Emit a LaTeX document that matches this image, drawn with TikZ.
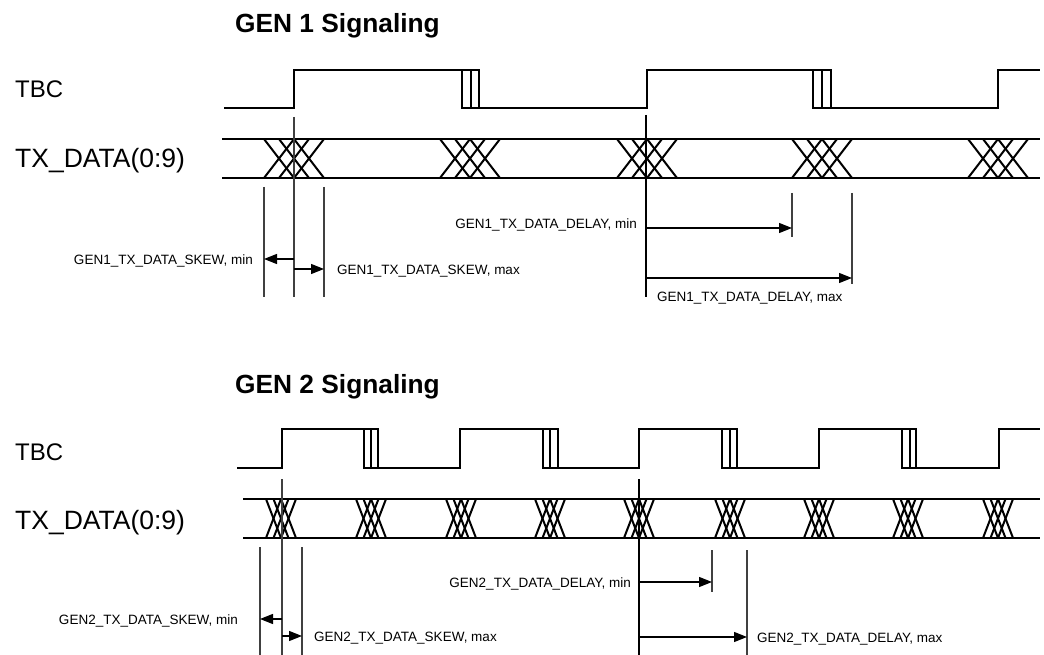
\documentclass[tikz,border=0pt]{standalone}
\usepackage{fontspec}
\setmainfont{Liberation Sans}
\usetikzlibrary{arrows.meta}
\begin{document}
\begin{tikzpicture}[x=1pt,y=-1pt,
  sig/.style={line width=2.9pt},
  xing/.style={line width=2pt},
  guide/.style={line width=1.1pt,black!75},
  dimarrow/.style={line width=1.2pt,-{Triangle[length=13pt,width=10pt]}},
  ttl/.style={inner sep=0pt,anchor=base west,font=\fontsize{26.3}{30}\selectfont\bfseries},
  sname/.style={inner sep=0pt,anchor=base west,font=\fontsize{24}{28}\selectfont},
  lbl/.style={inner sep=0pt,font=\fontsize{13.5}{16}\selectfont}]
\useasboundingbox (0,0) rectangle (1044,655);

% ================= GEN 1 =================
\node[ttl] (t1) at (235,33) {GEN 1 Signaling};
\node[sname] (tbc1) at (15,98) {TBC};
\node[sname,font=\fontsize{26.5}{30}\selectfont] (tx1) at (15,168) {TX\_DATA(0:9)};

% TBC
\draw[sig] (224,108) -- (294,108) -- (294,70) -- (479,70) -- (479,108) -- (647,108)
  -- (647,70) -- (831,70) -- (831,108) -- (998,108) -- (998,70) -- (1040,70);
\foreach \fa/\fb/\fc in {462/471/479, 813/822/831} {
  \draw[sig] (\fa,70) -- (\fa,108) -- (\fc,108);
  \draw[sig] (\fb,70) -- (\fb,108);
}
% TX_DATA
\draw[sig] (222,139) -- (1040,139);
\draw[sig] (222,178) -- (1040,178);
\foreach \c in {294,470,647,822,998} {
  \foreach \k in {0,1,2} {
    \draw[xing] ({\c-30+15*\k},139) -- ({\c+15*\k},178);
    \draw[xing] ({\c-30+15*\k},178) -- ({\c+15*\k},139);
  }
}
% guides
\draw[guide] (294,117) -- (294,297);
\draw[guide] (264,187) -- (264,297);
\draw[guide] (324,187) -- (324,297);
\draw[guide,black] (646,115) -- (646,297);
\draw[guide] (792,193) -- (792,237);
\draw[guide] (852,193) -- (852,284);
% arrows
\coordinate (a1s) at (294,259);  \coordinate (a1e) at (264,259);
\coordinate (b1s) at (294,269);  \coordinate (b1e) at (324,269);
\coordinate (c1s) at (646,228);  \coordinate (c1e) at (792,228);
\coordinate (d1s) at (646,278);  \coordinate (d1e) at (852,278);
\draw[dimarrow] (a1s) -- (a1e);
\draw[dimarrow] (b1s) -- (b1e);
\draw[dimarrow] (c1s) -- (c1e);
\draw[dimarrow] (d1s) -- (d1e);
\node[lbl,anchor=base east] (l1a) at (253,264) {GEN1\_TX\_DATA\_SKEW, min};
\node[lbl,anchor=base west] (l1b) at (337,274) {GEN1\_TX\_DATA\_SKEW, max};
\node[lbl,anchor=base east] (l1c) at (637,229) {GEN1\_TX\_DATA\_DELAY, min};
\node[lbl,anchor=base west] (l1d) at (657,301) {GEN1\_TX\_DATA\_DELAY, max};

% ================= GEN 2 =================
\node[ttl] (t2) at (235,393) {GEN 2 Signaling};
\node[sname] (tbc2) at (15,460) {TBC};
\node[sname,font=\fontsize{26.5}{30}\selectfont] (tx2) at (15,529) {TX\_DATA(0:9)};

\draw[sig] (237,468) -- (282,468) -- (282,429) -- (378,429) -- (378,468) -- (460,468)
  -- (460,429) -- (558,429) -- (558,468) -- (639,468) -- (639,429) -- (737,429)
  -- (737,468) -- (819,468) -- (819,429) -- (916,429) -- (916,468) -- (999,468)
  -- (999,429) -- (1040,429);
\foreach \fa/\fb/\fc in {364/371/378, 543/550/558, 722/730/737, 902/910/916} {
  \draw[sig] (\fa,429) -- (\fa,468) -- (\fc,468);
  \draw[sig] (\fb,429) -- (\fb,468);
}
\draw[sig] (243,499) -- (1040,499);
\draw[sig] (243,538) -- (1040,538);
\foreach \c in {281,371,461,550,639,730,819,908,998} {
  \foreach \k in {0,1,2} {
    \draw[xing] ({\c-15+7.5*\k},499) -- ({\c+7.5*\k},538);
    \draw[xing] ({\c-15+7.5*\k},538) -- ({\c+7.5*\k},499);
  }
}
\draw[guide] (282,479) -- (282,655);
\draw[guide] (260,547) -- (260,655);
\draw[guide] (302,547) -- (302,655);
\draw[guide,black] (639,479) -- (639,655);
\draw[guide] (712,550) -- (712,592);
\draw[guide] (747,550) -- (747,655);
\coordinate (a2s) at (282,619);  \coordinate (a2e) at (260,619);
\coordinate (b2s) at (282,636);  \coordinate (b2e) at (302,636);
\coordinate (c2s) at (639,582);  \coordinate (c2e) at (712,582);
\coordinate (d2s) at (639,637);  \coordinate (d2e) at (747,637);
\draw[dimarrow] (a2s) -- (a2e);
\draw[dimarrow] (b2s) -- (b2e);
\draw[dimarrow] (c2s) -- (c2e);
\draw[dimarrow] (d2s) -- (d2e);
\node[lbl,anchor=base east] (l2a) at (238,624) {GEN2\_TX\_DATA\_SKEW, min};
\node[lbl,anchor=base west] (l2b) at (314,641) {GEN2\_TX\_DATA\_SKEW, max};
\node[lbl,anchor=base east] (l2c) at (631,587) {GEN2\_TX\_DATA\_DELAY, min};
\node[lbl,anchor=base west] (l2d) at (757,642) {GEN2\_TX\_DATA\_DELAY, max};
\end{tikzpicture}
\end{document}
